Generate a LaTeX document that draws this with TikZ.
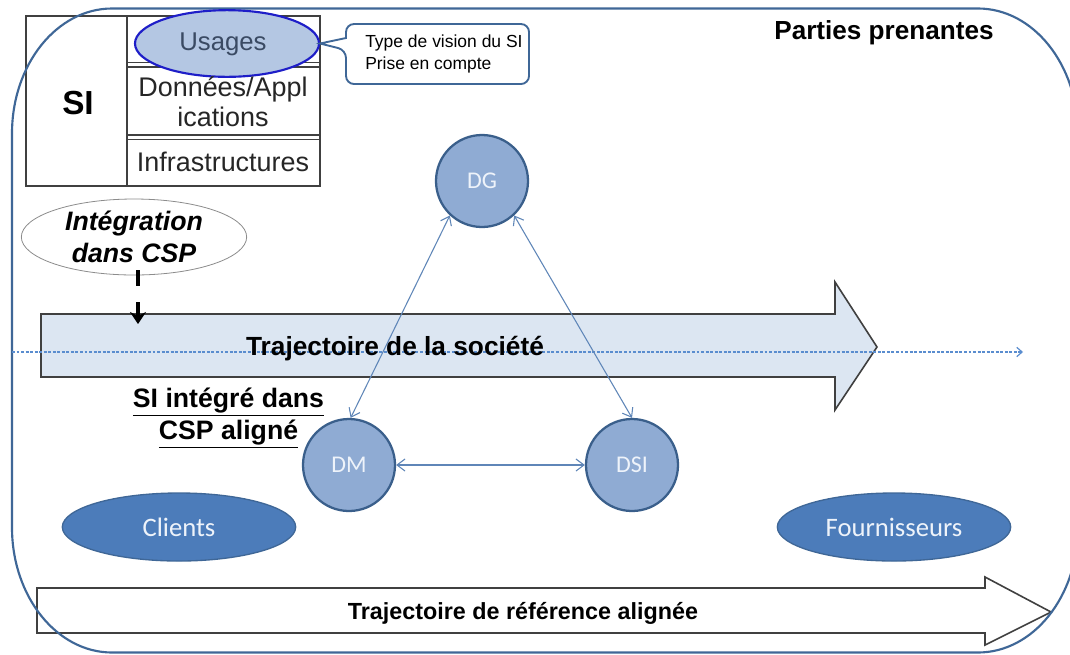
\documentclass[tikz,border=0pt]{standalone}
\usepackage{fontspec}
\setmainfont{Liberation Sans}
\newfontfamily\calibri{Carlito}
\usetikzlibrary{arrows.meta,shapes.geometric}
\definecolor{outerc}{HTML}{3F6797}
\definecolor{circf}{HTML}{8FABD3}
\definecolor{circd}{HTML}{3A5F8B}
\definecolor{ellf}{HTML}{4C7CBA}
\definecolor{elld}{HTML}{3F6797}
\definecolor{linkc}{HTML}{5F86B8}
\definecolor{dashc}{HTML}{5A8DCF}
\definecolor{usef}{HTML}{B4C7E3}
\definecolor{arrf}{HTML}{DCE6F2}
\definecolor{softw}{HTML}{EEF3FA}
\definecolor{inkk}{HTML}{3A4A63}
\definecolor{tline}{HTML}{404040}
\newcommand{\ul}[1]{\underline{#1}}
\tikzset{
  circnode/.style={circle,draw=circd,line width=1.7pt,fill=circf,minimum size=69pt,inner sep=0pt,text=softw,font=\calibri\fontsize{18}{20}\selectfont},
  ellnode/.style={ellipse,draw=elld,line width=1pt,fill=ellf,minimum width=175pt,minimum height=51pt,inner sep=0pt,text=softw,font=\calibri\fontsize{20}{22}\selectfont},
  link/.style={draw=linkc,line width=.8pt,{Straight Barb[length=6pt,width=9pt]}-{Straight Barb[length=6pt,width=9pt]}},
  cellt/.style={font=\fontsize{20.2}{22.5}\selectfont,text=black!85,align=center,inner sep=0pt},
  tline/.style={draw=tline,line width=1pt},
  bigarrow/.style={draw=tline,line width=1.2pt,line join=miter},
}
\begin{document}
\begin{tikzpicture}[x=.75pt,y=-.75pt]
\clip (0,0) rectangle (1070,654);
\fill[white] (0,0) rectangle (1070,654);
% main arrow
\draw[bigarrow,fill=arrf] (41,314) -- (835,314) -- (835,282) -- (877,347) -- (835,410) -- (835,377) -- (41,377) -- cycle;
% reference arrow
\draw[bigarrow,fill=white] (37,588) -- (985,588) -- (985,577) -- (1051,612) -- (985,645) -- (985,633) -- (37,633) -- cycle;
% table
\draw[tline] (26,16) rectangle (320,186);
\draw[tline] (127,16) -- (127,186);
\draw[tline] (127,62.5) -- (320,62.5) (127,67) -- (320,67);
\draw[tline] (127,135) -- (320,135) (127,139.5) -- (320,139.5);
% outer frame
\draw[outerc,line width=1.6pt] (112,8.5) -- (978,8.5)
  .. controls (1033.2,8.5) and (1078,64.5) .. (1078,133.5)
  -- (1078,527.5)
  .. controls (1078,596.5) and (1033.2,652.5) .. (978,652.5)
  -- (112,652.5)
  .. controls (56.8,652.5) and (12,596.5) .. (12,527.5)
  -- (12,133.5)
  .. controls (12,64.5) and (56.8,8.5) .. (112,8.5) -- cycle;
% Usages ellipse
\node[ellipse,draw={rgb,255:red,30;green,30;blue,200},line width=1.6pt,fill=usef,minimum width=138pt,minimum height=50pt,inner sep=0pt] (usages) at (227,43.5) {};
\node[inner sep=0pt,text=inkk,font=\fontsize{19.3}{21}\selectfont] (usaget) at (223,44) {Usages};
% table text
\node[font=\bfseries\fontsize{25}{28}\selectfont,inner sep=0pt] (si) at (78,103) {SI};
\node[cellt] (donnees) at (223,102) {Données/Appl\\ications};
\node[cellt] (infra) at (223,162) {Infrastructures};
% callout
\coordinate (ctip) at (usages.east);
\draw[outerc,line width=1.4pt,fill=white,rounded corners=6pt] (346,24) -- (529,24) -- (529,84) -- (346,84) -- (346,50) [sharp corners] -- (ctip) -- (346,38) [rounded corners=6pt] -- cycle;
\node[anchor=west,align=left,inner sep=0pt,font=\fontsize{13.1}{16}\selectfont] (callt) at (365,54) {Type de vision du SI\\Prise en compte};
% dashed line
\coordinate (dashl) at (12,352);
\coordinate (dashr) at (1023,352);
\draw[dashc,line width=.9pt,dash pattern=on 2.2pt off 1.2pt,-{Straight Barb[length=4pt,width=7pt]}] (dashl) -- (dashr);
% circles
\node[circnode] (dg) at (482,181) {DG};
\node[circnode] (dm) at (349,465) {DM};
\node[circnode] (dsi) at (632,465) {DSI};
\draw[link] (dg.227) -- (dm.88);
\draw[link] (dg.313) -- (dsi.90);
\draw[link] (dm.east) -- (dsi.west);
% ellipses
\node[ellnode] (clients) at (179,527) {Clients};
\node[ellnode] (four) at (894,527) {Fournisseurs};
% integration
\node[ellipse,draw=black!45,line width=.6pt,fill=white,minimum width=169pt,minimum height=57pt,inner sep=0pt,font=\bfseries\itshape\fontsize{20}{23.5}\selectfont,align=center] (integ) at (134,237) {Intégration\\dans CSP};
\coordinate (integs) at (138,270);
\coordinate (arrt) at (138,324);
\draw[black,line width=3.2pt,dash pattern=on 12pt off 12pt,-{Stealth[length=9pt,width=12pt]}] (integs) -- (arrt);
% labels
\node[font=\bfseries\fontsize{19.6}{22}\selectfont,inner sep=0pt] (parties) at (884,33) {Parties prenantes};
\node[font=\bfseries\fontsize{19.7}{22}\selectfont,inner sep=0pt] (traj) at (395,349) {Trajectoire de la société};
\node[inner sep=0pt,font=\bfseries\fontsize{20}{24}\selectfont,align=center] (aligne) at (228.5,418) {\ul{SI intégré dans}\\\ul{CSP aligné}};
\node[font=\bfseries\fontsize{17.5}{20}\selectfont,inner sep=0pt] (ref) at (523,613) {Trajectoire de référence alignée};
\end{tikzpicture}
\end{document}
